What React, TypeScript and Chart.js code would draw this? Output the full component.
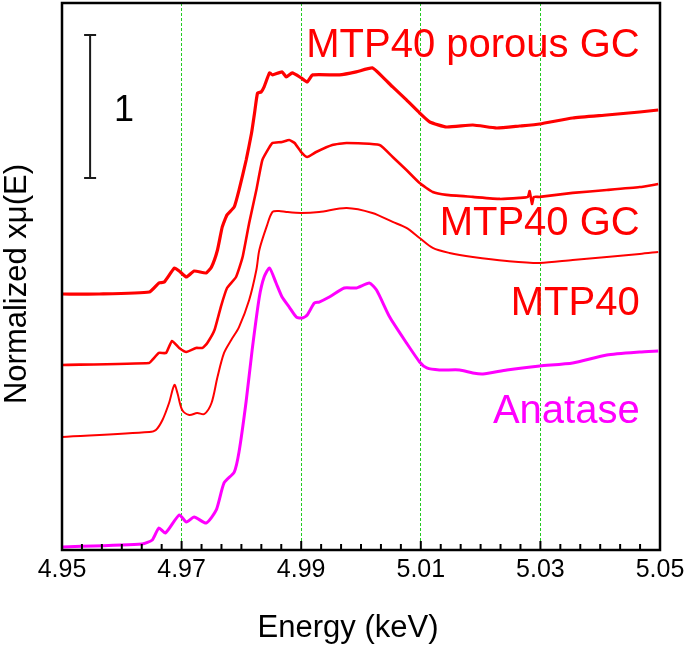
import React, { useEffect, useRef } from 'react';
import { Chart, registerables } from 'chart.js';

Chart.register(...registerables);

const FONT = '"Liberation Sans", Arial, Helvetica, sans-serif';
const RED = '#ff0000';
const MAGENTA = '#ff00ff';

// Axis setup
const xMin = 4.95;
const xMax = 5.05;
const majorTicks = [4.95, 4.97, 4.99, 5.01, 5.03, 5.05];
const minorPerMajor = 6;
const guideLines = [4.97, 4.99, 5.01, 5.03];
const yMin = 0;
const yMax = 3.825;
const xTitle = 'Energy (keV)';
const yTitle = 'Normalized xμ(E)';

// MTP40 porous GC
const porousE = [4.95, 4.9562, 4.9646, 4.9662, 4.9671, 4.9688, 4.9696, 4.9708, 4.9721, 4.9741, 4.975, 4.976, 4.9768, 4.9776, 4.9788, 4.9796, 4.9808, 4.9817, 4.9822, 4.9827, 4.9833, 4.9838, 4.9847, 4.9852, 4.9868, 4.9875, 4.9885, 4.99, 4.991, 4.9919, 4.9964, 4.9992, 5.0019, 5.0036, 5.0053, 5.0076, 5.0098, 5.0115, 5.0143, 5.0187, 5.0227, 5.0265, 5.0299, 5.0354, 5.0411, 5.0466, 5.0497];
const porousY = [1.79, 1.79, 1.804, 1.867, 1.874, 1.972, 1.951, 1.909, 1.951, 1.937, 1.979, 2.098, 2.259, 2.343, 2.399, 2.517, 2.727, 2.916, 3.056, 3.196, 3.203, 3.238, 3.336, 3.322, 3.343, 3.308, 3.336, 3.301, 3.273, 3.322, 3.322, 3.343, 3.371, 3.308, 3.238, 3.147, 3.056, 2.993, 2.958, 2.972, 2.951, 2.965, 2.979, 3.021, 3.042, 3.063, 3.077];

// MTP40 GC
const gcE = [4.95, 4.9646, 4.9651, 4.9662, 4.9674, 4.9684, 4.9696, 4.9708, 4.9724, 4.9735, 4.9743, 4.9755, 4.9766, 4.9776, 4.9791, 4.9802, 4.9813, 4.9825, 4.9835, 4.9847, 4.9852, 4.9868, 4.988, 4.9889, 4.99, 4.991, 4.9925, 4.9952, 4.9976, 5.0031, 5.0053, 5.0076, 5.0098, 5.012, 5.0143, 5.0187, 5.0232, 5.0265, 5.0279, 5.0282, 5.0286, 5.0289, 5.0299, 5.0354, 5.0411, 5.0466, 5.0497];
const gcY = [1.294, 1.308, 1.329, 1.378, 1.378, 1.462, 1.413, 1.385, 1.413, 1.413, 1.448, 1.538, 1.706, 1.832, 1.909, 2.049, 2.287, 2.517, 2.727, 2.818, 2.846, 2.853, 2.867, 2.846, 2.783, 2.748, 2.783, 2.832, 2.846, 2.832, 2.748, 2.657, 2.566, 2.503, 2.483, 2.469, 2.455, 2.462, 2.469, 2.51, 2.42, 2.469, 2.469, 2.497, 2.517, 2.538, 2.559];

// MTP40
const mtpE = [4.95, 4.9646, 4.9657, 4.9668, 4.9679, 4.9688, 4.9693, 4.9701, 4.9713, 4.9726, 4.9738, 4.975, 4.976, 4.9771, 4.9783, 4.9796, 4.9813, 4.9825, 4.983, 4.9842, 4.9852, 4.9863, 4.9875, 4.99, 4.993, 4.9976, 5.0019, 5.0053, 5.0076, 5.0098, 5.012, 5.0148, 5.0187, 5.0244, 5.0299, 5.0354, 5.0411, 5.0466, 5.0497];
const mtpY = [0.79, 0.825, 0.839, 0.909, 1.028, 1.154, 1.098, 0.979, 0.944, 0.958, 0.951, 1.028, 1.21, 1.378, 1.469, 1.559, 1.748, 1.958, 2.098, 2.259, 2.364, 2.371, 2.364, 2.357, 2.364, 2.392, 2.357, 2.294, 2.252, 2.182, 2.112, 2.077, 2.049, 2.021, 2.007, 2.028, 2.049, 2.07, 2.084];

// Anatase
const anataseE = [4.95, 4.9634, 4.9651, 4.9662, 4.9673, 4.9696, 4.9708, 4.9721, 4.9741, 4.9758, 4.9771, 4.9788, 4.9796, 4.9808, 4.9818, 4.983, 4.9838, 4.9847, 4.9858, 4.9868, 4.988, 4.9892, 4.9902, 4.991, 4.9922, 4.993, 4.9947, 4.9972, 4.9992, 5.0014, 5.0026, 5.0048, 5.0076, 5.0098, 5.011, 5.0131, 5.0165, 5.0187, 5.0204, 5.0244, 5.0299, 5.0354, 5.0411, 5.0466, 5.0497];
const anataseY = [0.021, 0.042, 0.07, 0.154, 0.119, 0.245, 0.196, 0.231, 0.189, 0.28, 0.469, 0.545, 0.685, 1.042, 1.399, 1.769, 1.909, 1.972, 1.867, 1.769, 1.699, 1.629, 1.622, 1.643, 1.727, 1.734, 1.769, 1.832, 1.832, 1.867, 1.818, 1.629, 1.448, 1.315, 1.273, 1.259, 1.259, 1.238, 1.231, 1.259, 1.287, 1.308, 1.364, 1.385, 1.392];

// Series labels (data coordinates, right-aligned)
const seriesLabels = [
  { text: 'MTP40 porous GC', x: 5.0466, y: 3.448, color: RED },
  { text: 'MTP40 GC', x: 5.0466, y: 2.203, color: RED },
  { text: 'MTP40', x: 5.0466, y: 1.643, color: RED },
  { text: 'Anatase', x: 5.0466, y: 0.888, color: MAGENTA },
];

// Scale bar (1 unit)
const scaleBarX = 4.9547;
const scaleBarY = [2.601, 3.601];
const scaleBarText = '1';
const scaleBarTextX = 4.9587;
const scaleBarTextY = 3.07;

const zip = (xs: number[], ys: number[]) => xs.map((x, i) => ({ x, y: ys[i] }));

const near = (a: number, b: number) => Math.abs(a - b) < 1e-6;

const decorPlugin = {
  id: 'decor',
  afterDatasetsDraw(chart: any) {
    const { ctx, chartArea, scales } = chart;
    const xs = scales.x;
    const ys = scales.y;
    ctx.save();
    // inward tick marks
    ctx.strokeStyle = '#000';
    ctx.lineWidth = 2;
    xs.ticks.forEach((t: any, i: number) => {
      const px = xs.getPixelForValue(t.value);
      const len = i % minorPerMajor === 0 ? 9 : 6;
      ctx.beginPath();
      ctx.moveTo(px, chartArea.bottom);
      ctx.lineTo(px, chartArea.bottom - len);
      ctx.stroke();
    });
    // frame
    ctx.lineWidth = 2.5;
    ctx.strokeRect(chartArea.left, chartArea.top, chartArea.right - chartArea.left, chartArea.bottom - chartArea.top);
    // scale bar
    const bx = xs.getPixelForValue(scaleBarX);
    const by0 = ys.getPixelForValue(scaleBarY[0]);
    const by1 = ys.getPixelForValue(scaleBarY[1]);
    ctx.strokeStyle = '#1a1a1a';
    ctx.lineWidth = 2;
    ctx.beginPath();
    ctx.moveTo(bx, by0);
    ctx.lineTo(bx, by1);
    ctx.moveTo(bx - 6, by0);
    ctx.lineTo(bx + 6, by0);
    ctx.moveTo(bx - 6, by1);
    ctx.lineTo(bx + 6, by1);
    ctx.stroke();
    ctx.fillStyle = '#000';
    ctx.font = `36px ${FONT}`;
    ctx.textAlign = 'left';
    ctx.textBaseline = 'middle';
    ctx.fillText(scaleBarText, xs.getPixelForValue(scaleBarTextX), ys.getPixelForValue(scaleBarTextY));
    // series labels
    ctx.font = `40px ${FONT}`;
    ctx.textAlign = 'right';
    ctx.textBaseline = 'alphabetic';
    seriesLabels.forEach((l) => {
      ctx.fillStyle = l.color;
      ctx.fillText(l.text, xs.getPixelForValue(l.x), ys.getPixelForValue(l.y));
    });
    // axis titles
    ctx.fillStyle = '#000';
    ctx.font = `31px ${FONT}`;
    ctx.textAlign = 'center';
    ctx.textBaseline = 'alphabetic';
    ctx.fillText(xTitle, 348, 637);
    ctx.save();
    ctx.translate(26, 284);
    ctx.rotate(-Math.PI / 2);
    ctx.fillText(yTitle, 0, 0);
    ctx.restore();
    ctx.restore();
  },
};

export default function App() {
  const ref = useRef<HTMLCanvasElement>(null);
  useEffect(() => {
    document.body.style.margin = '0';
    const canvas = ref.current!;
    const ds = (label: string, data: any[], color: string, width: number, tension: number) => ({
      label,
      data,
      borderColor: color,
      backgroundColor: color,
      borderWidth: width,
      pointRadius: 0,
      tension,
      fill: false,
    });
    const chart = new Chart(canvas, {
      type: 'line',
      data: {
        datasets: [
          ds('MTP40 porous GC', zip(porousE, porousY), RED, 3.2, 0.15),
          ds('MTP40 GC', zip(gcE, gcY), RED, 2.6, 0.15),
          ds('MTP40', zip(mtpE, mtpY), RED, 2, 0.3),
          ds('Anatase', zip(anataseE, anataseY), MAGENTA, 3, 0.2),
        ],
      },
      options: {
        animation: false,
        responsive: false,
        layout: { padding: { top: 3, right: 25, left: 0, bottom: 0 } },
        plugins: { legend: { display: false }, tooltip: { enabled: false } },
        scales: {
          x: {
            type: 'linear',
            min: xMin,
            max: xMax,
            afterBuildTicks: (scale: any) => {
              const ticks: any[] = [];
              for (let m = 0; m < majorTicks.length - 1; m++) {
                const a = majorTicks[m];
                const b = majorTicks[m + 1];
                for (let k = 0; k < minorPerMajor; k++) ticks.push({ value: a + ((b - a) * k) / minorPerMajor });
              }
              ticks.push({ value: majorTicks[majorTicks.length - 1] });
              scale.ticks = ticks;
            },
            afterFit: (scale: any) => {
              scale.height = 97;
              scale.paddingLeft = 0;
              scale.paddingRight = 0;
            },
            ticks: {
              autoSkip: false,
              maxRotation: 0,
              padding: 5,
              color: '#000',
              font: { family: FONT, size: 25 },
              callback: (_v: any, i: number) => (i % minorPerMajor === 0 ? majorTicks[i / minorPerMajor].toFixed(2) : ''),
            },
            grid: {
              drawTicks: false,
              lineWidth: 1,
              color: (c: any) => {
                const v = c.tick ? c.tick.value : NaN;
                return guideLines.some((g) => near(g, v)) ? '#22cc22' : 'rgba(0,0,0,0)';
              },
            },
            border: { display: false, dash: [3, 2] },
            title: { display: false },
          },
          y: {
            type: 'linear',
            min: yMin,
            max: yMax,
            afterFit: (scale: any) => {
              scale.width = 62;
              scale.paddingTop = 0;
              scale.paddingBottom = 0;
            },
            ticks: { display: false },
            grid: { display: false, drawTicks: false },
            border: { display: false },
            title: { display: false },
          },
        },
      },
      plugins: [decorPlugin],
    });
    return () => chart.destroy();
  }, []);
  return (
    <div style={{ position: 'absolute', left: 0, top: 0 }}>
      <canvas ref={ref} width={685} height={647} />
    </div>
  );
}
